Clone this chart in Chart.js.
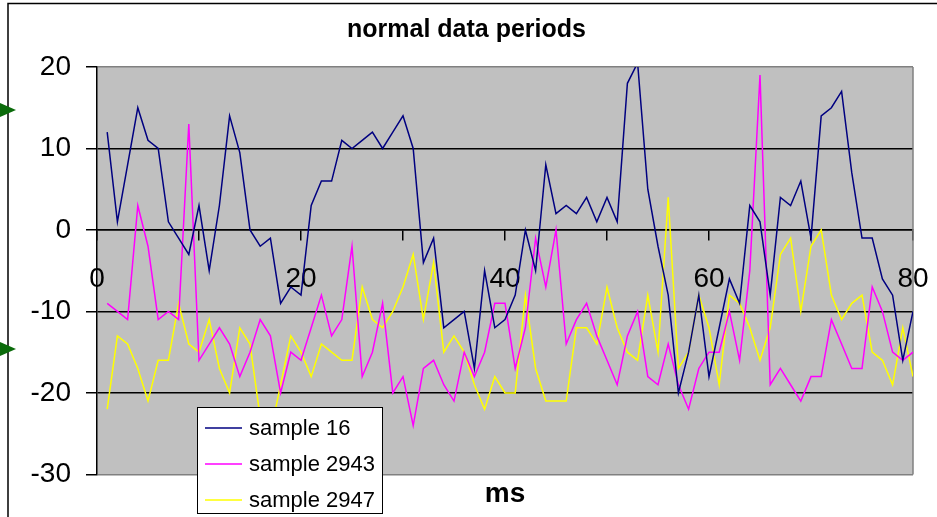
<!DOCTYPE html>
<html>
<head>
<meta charset="utf-8">
<title>normal data periods</title>
<script src="https://cdn.jsdelivr.net/npm/chart.js@4.4.1/dist/chart.umd.min.js"></script>
<style>
    html, body { margin: 0; padding: 0; background: #fff; }
    #chart { display: block; }
</style>
</head>
<body>
<canvas id="chart" width="937" height="517"></canvas>
<script>
const msValues = [1, 2, 3, 4, 5, 6, 7, 8, 9, 10, 11, 12, 13, 14, 15, 16, 17, 18, 19, 20,
    21, 22, 23, 24, 25, 26, 27, 28, 29, 30, 31, 32, 33, 34, 35, 36, 37, 38, 39, 40,
    41, 42, 43, 44, 45, 46, 47, 48, 49, 50, 51, 52, 53, 54, 55, 56, 57, 58, 59, 60,
    61, 62, 63, 64, 65, 66, 67, 68, 69, 70, 71, 72, 73, 74, 75, 76, 77, 78, 79, 80];

const sample16 = [12, 1, 8, 15, 11, 10, 1, -1, -3, 3, -5, 3, 14, 9.5, 0, -2, -1, -9, -7, -8,
    3, 6, 6, 11, 10, 11, 12, 10, 12, 14, 10, -4, -1, -12, -11, -10, -17, -5, -12, -11,
    -8, 0, -5, 8, 2, 3, 2, 4, 1, 4, 1, 18, 20.5, 5, -2, -8, -20, -15, -8, -18,
    -12, -6, -9, 3, 1, -8, 4, 3, 6, -1, 14, 15, 17, 7, -1, -1, -6, -8, -16, -10];

const sample2943 = [-9, -10, -11, 3, -2, -11, -10, -11, 13, -16, -14, -12, -14, -18, -15, -11, -13, -20, -15, -16,
    -12, -8, -13, -11, -2, -18, -15, -9, -20, -18, -24, -17, -16, -19, -21, -15, -18, -15, -9, -9,
    -17, -12, -1, -7, 0, -14, -11, -9, -13, -16, -19, -13, -10, -18, -19, -14, -19, -22, -17, -15,
    -15, -10, -16, -5, 19, -19, -17, -19, -21, -18, -18, -11, -14, -17, -17, -7, -10, -15, -16, -15];

const sample2947 = [-22, -13, -14, -17, -21, -16, -16, -9, -14, -15, -11, -17, -20, -12, -14, -23, -25, -19, -13, -15,
    -18, -14, -15, -16, -16, -7, -11, -12, -10, -7, -3, -11, -4, -15, -13, -15, -19, -22, -18, -20,
    -20, -8, -17, -21, -21, -21, -12, -12, -14, -7, -12, -15, -16, -8, -15, 4, -17, -15, -8, -12,
    -19, -8, -9, -12, -16, -12, -3, -1, -10, -2, 0, -8, -11, -9, -8, -15, -16, -19, -12, -18];

const seriesNames = ["sample 16", "sample 2943", "sample 2947"];
const seriesColors = ["#000080", "#ff00ff", "#ffff00"];
const yTicks = [20, 10, 0, -10, -20, -30];
const xLabelTicks = [0, 20, 40, 60, 80];

const FONT = "'Liberation Sans', Arial, sans-serif";

function toPoints(values) {
    return values.map((v, i) => ({ x: msValues[i], y: v }));
}

// gray plot background + outer frame + the two green markers on the left
const backdrop = {
    id: "backdrop",
    beforeDraw(chart) {
        const { ctx, chartArea: a } = chart;
        ctx.save();
        ctx.fillStyle = "#fff";
        ctx.fillRect(0, 0, chart.width, chart.height);
        ctx.fillStyle = "#c0c0c0";
        ctx.fillRect(a.left, a.top, a.right - a.left, a.bottom - a.top);

        ctx.strokeStyle = "#000";
        ctx.lineWidth = 1.5;
        ctx.beginPath();
        ctx.moveTo(8, chart.height);
        ctx.lineTo(8, 3.5);
        ctx.lineTo(chart.width, 3.5);
        ctx.stroke();

        ctx.fillStyle = "#0b6b0b";
        [110, 349].forEach(y => {
            ctx.beginPath();
            ctx.moveTo(0, y - 7);
            ctx.lineTo(16, y);
            ctx.lineTo(0, y + 7);
            ctx.closePath();
            ctx.fill();
        });
        ctx.restore();
    },
    beforeDatasetsDraw(chart) {
        const { ctx, chartArea: a } = chart;
        ctx.save();
        ctx.strokeStyle = "#808080";
        ctx.lineWidth = 1.5;
        ctx.beginPath();
        ctx.moveTo(a.right, a.top);
        ctx.lineTo(a.right, a.bottom);
        ctx.stroke();
        ctx.restore();
    }
};

// boxed legend sitting over the lower left of the plot
const boxLegend = {
    id: "boxLegend",
    afterDraw(chart) {
        const { ctx } = chart;
        const left = 197, top = 407, w = 185, h = 106;
        ctx.save();
        ctx.fillStyle = "#fff";
        ctx.fillRect(left, top, w, h);
        ctx.strokeStyle = "#000";
        ctx.lineWidth = 1;
        ctx.strokeRect(left + 0.5, top + 0.5, w, h);
        ctx.font = "22px " + FONT;
        ctx.textBaseline = "middle";
        ctx.fillStyle = "#000";
        chart.data.datasets.forEach((ds, i) => {
            const y = top + 21 + i * 36;
            ctx.strokeStyle = ds.borderColor;
            ctx.lineWidth = 1.5;
            ctx.beginPath();
            ctx.moveTo(left + 8, y);
            ctx.lineTo(left + 45, y);
            ctx.stroke();
            ctx.fillText(ds.label, left + 52, y + 1);
        });
        ctx.restore();
    }
};

const datasets = [sample16, sample2943, sample2947].map((values, i) => ({
    label: seriesNames[i],
    data: toPoints(values),
    borderColor: seriesColors[i],
    backgroundColor: seriesColors[i],
    borderWidth: 1.5,
    pointRadius: 0,
    tension: 0,
    fill: false
}));

new Chart(document.getElementById("chart"), {
    type: "line",
    data: { datasets },
    plugins: [backdrop, boxLegend],
    options: {
        responsive: false,
        animation: false,
        devicePixelRatio: 1,
        layout: { padding: { left: 20, right: 24, top: 0, bottom: 0 } },
        plugins: {
            legend: { display: false },
            tooltip: { enabled: false },
            title: {
                display: true,
                text: "normal data periods",
                color: "#000",
                font: { family: FONT, size: 25, weight: "bold" },
                padding: { top: 15, bottom: 22 }
            },
            subtitle: {
                display: true,
                position: "bottom",
                fullSize: false,
                text: "ms",
                color: "#000",
                font: { family: FONT, size: 28, weight: "bold" },
                padding: { top: 3, bottom: 6 }
            }
        },
        scales: {
            x: {
                type: "linear",
                position: { y: 0 },
                min: 0,
                max: 80,
                // the axis sits inside the plot, so its label padding should not shrink the plot
                afterFit: scale => { scale.paddingRight = 0; scale.paddingLeft = 0; },
                ticks: {
                    stepSize: 10,
                    autoSkip: false,
                    maxRotation: 0,
                    padding: 23,
                    color: "#000",
                    font: { family: FONT, size: 28 },
                    callback: v => xLabelTicks.includes(v) ? String(v) : ""
                },
                grid: {
                    drawOnChartArea: false,
                    drawTicks: true,
                    tickLength: 10,
                    color: "#000",
                    lineWidth: 1.5
                },
                border: { display: true, color: "#000", width: 1.5 }
            },
            y: {
                min: -30,
                max: 20,
                afterFit: scale => { scale.width = 77; },
                afterBuildTicks: scale => { scale.ticks = yTicks.map(v => ({ value: v })); },
                ticks: {
                    padding: 15,
                    color: "#000",
                    font: { family: FONT, size: 28 }
                },
                grid: {
                    color: ctx => (ctx.tick && (ctx.tick.value === 20 || ctx.tick.value === -30)) ? "#808080" : "#000",
                    tickColor: "#000",
                    lineWidth: 1.5,
                    tickLength: 11
                },
                border: { display: true, color: "#000", width: 1.5 }
            }
        }
    }
});
</script>
</body>
</html>
